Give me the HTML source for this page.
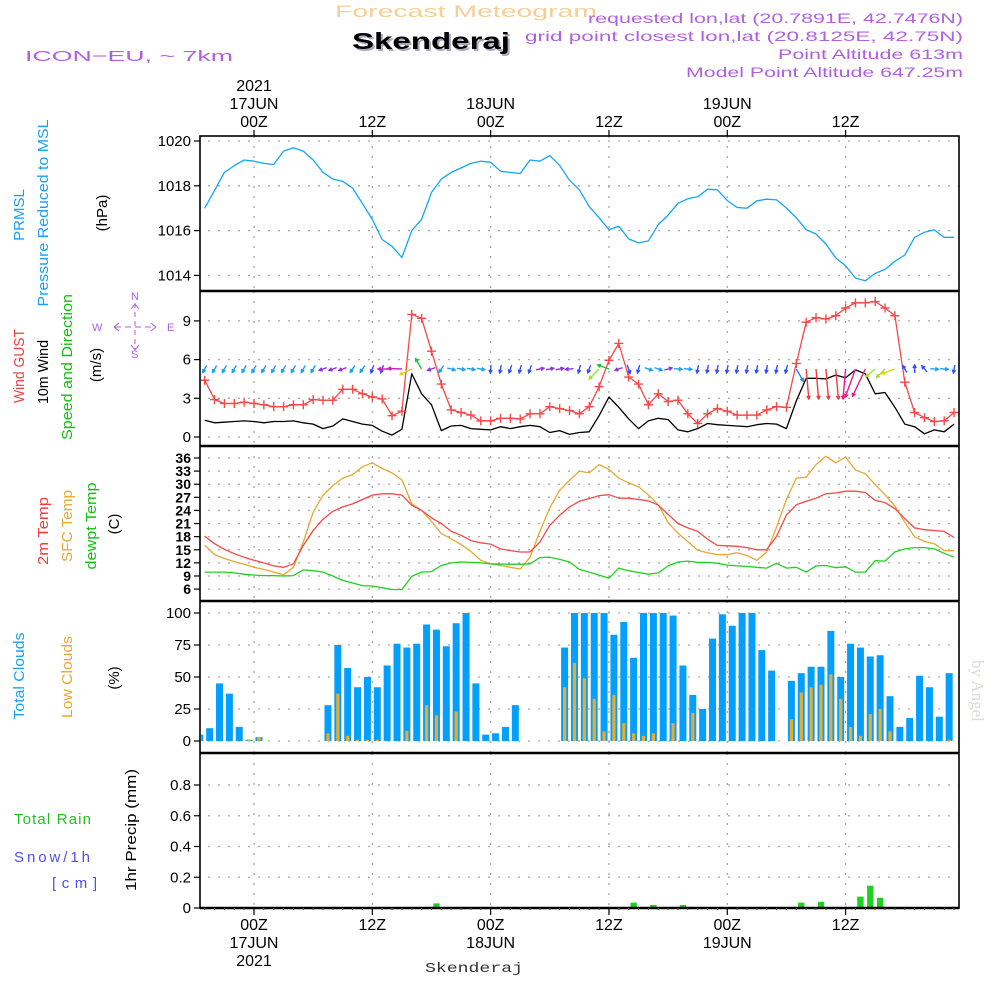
<!DOCTYPE html>
<html><head><meta charset="utf-8"><title>Skenderaj Meteogram</title>
<style>
html,body{margin:0;padding:0;background:#fff;}
svg{display:block;font-family:"Liberation Sans",sans-serif;}
</style></head>
<body>
<svg id="chart" width="1000" height="1000" viewBox="0 0 1000 1000" xmlns="http://www.w3.org/2000/svg">
<rect x="0" y="0" width="1000" height="1000" fill="#fff"/>
<!-- header -->
<text x="335" y="17" font-size="17" fill="#f5cf95" textLength="262" lengthAdjust="spacingAndGlyphs">Forecast Meteogram</text>
<text x="354" y="51" font-size="23" font-weight="bold" fill="#aab" textLength="158" lengthAdjust="spacingAndGlyphs">Skenderaj</text>
<text x="352" y="49" font-size="23" font-weight="bold" fill="#000" textLength="158" lengthAdjust="spacingAndGlyphs">Skenderaj</text>
<text x="25" y="61" font-size="15" fill="#b060e0" textLength="208" lengthAdjust="spacingAndGlyphs">ICON−EU, ~ 7km</text>
<g fill="#b060e0" font-size="14" text-anchor="end">
<text x="963" y="23" textLength="375" lengthAdjust="spacingAndGlyphs">requested lon,lat (20.7891E, 42.7476N)</text>
<text x="963" y="41" textLength="438" lengthAdjust="spacingAndGlyphs">grid point closest lon,lat (20.8125E, 42.75N)</text>
<text x="963" y="59" textLength="185" lengthAdjust="spacingAndGlyphs">Point Altitude 613m</text>
<text x="963" y="77" textLength="277" lengthAdjust="spacingAndGlyphs">Model Point Altitude 647.25m</text>
</g>
<g id="grid"></g>
<g id="marks"></g>
<g id="axes"></g>
<!-- left labels -->
<g font-size="15">
<text transform="translate(24,215) rotate(-90)" text-anchor="middle" fill="#1aa0f0">PRMSL</text>
<text transform="translate(48,213) rotate(-90)" text-anchor="middle" fill="#1aa0f0" textLength="187" lengthAdjust="spacingAndGlyphs">Pressure Reduced to MSL</text>
<text transform="translate(107,213) rotate(-90)" text-anchor="middle" fill="#000">(hPa)</text>
<text transform="translate(24,366) rotate(-90)" text-anchor="middle" fill="#f03c3c" textLength="74" lengthAdjust="spacingAndGlyphs">Wind GUST</text>
<text transform="translate(48,372) rotate(-90)" text-anchor="middle" fill="#000" textLength="64" lengthAdjust="spacingAndGlyphs">10m Wind</text>
<text transform="translate(72,367) rotate(-90)" text-anchor="middle" fill="#10c010" textLength="146" lengthAdjust="spacingAndGlyphs">Speed and Direction</text>
<text transform="translate(101,365) rotate(-90)" text-anchor="middle" fill="#000">(m/s)</text>
<text transform="translate(48,531) rotate(-90)" text-anchor="middle" fill="#f03c3c" textLength="68" lengthAdjust="spacingAndGlyphs">2m Temp</text>
<text transform="translate(72,526) rotate(-90)" text-anchor="middle" fill="#e8a830" textLength="72" lengthAdjust="spacingAndGlyphs">SFC Temp</text>
<text transform="translate(96,526) rotate(-90)" text-anchor="middle" fill="#10c010" textLength="87" lengthAdjust="spacingAndGlyphs">dewpt Temp</text>
<text transform="translate(119,524) rotate(-90)" text-anchor="middle" fill="#000">(C)</text>
<text transform="translate(24,676) rotate(-90)" text-anchor="middle" fill="#1aa0f0" textLength="87" lengthAdjust="spacingAndGlyphs">Total Clouds</text>
<text transform="translate(72,677) rotate(-90)" text-anchor="middle" fill="#e8a830" textLength="82" lengthAdjust="spacingAndGlyphs">Low Clouds</text>
<text transform="translate(119,678) rotate(-90)" text-anchor="middle" fill="#000">(%)</text>
<text transform="translate(136,830) rotate(-90)" text-anchor="middle" fill="#000" textLength="122" lengthAdjust="spacingAndGlyphs">1hr Precip (mm)</text>
<text x="14" y="824" fill="#20c020" textLength="77" lengthAdjust="spacing">Total  Rain</text>
<text x="14" y="862" fill="#5050f0" textLength="76" lengthAdjust="spacing">Snow/1h</text>
<text x="52" y="888" fill="#5050f0" textLength="45" lengthAdjust="spacing">[cm]</text>
</g>
<!-- compass -->
<g fill="#b060e0" stroke="#b060e0" font-size="11">
<text x="131" y="300" stroke="none">N</text>
<text x="131" y="358" stroke="none">S</text>
<text x="92" y="331" stroke="none">W</text>
<text x="167" y="331" stroke="none">E</text>
<line x1="115" y1="327" x2="155" y2="327" stroke-dasharray="6 4" stroke-width="1"/>
<line x1="135" y1="303" x2="135" y2="350" stroke-dasharray="5 4" stroke-width="1"/>
<polyline points="119,323 114,327 119,331" fill="none"/>
<polyline points="151,323 156,327 151,331" fill="none"/>
<polyline points="131,309 135,304 139,309" fill="none"/>
<polyline points="131,345 135,350 139,345" fill="none"/>
</g>
<text transform="translate(972,660) rotate(90)" font-family="'Liberation Serif',serif" font-size="17" fill="#d8dcd6">by Angel</text>
<text x="425" y="972" font-family="'Liberation Mono',monospace" font-size="14" fill="#333" textLength="98" lengthAdjust="spacingAndGlyphs">Skenderaj</text>
</svg>
<script>
// ---------- data (hourly, first point 19Z 16JUN) ----------
const hoursStart = -5;
const pressure = [1017.0,1017.8,1018.6,1018.9,1019.15,1019.1,1019.0,1018.95,1019.55,1019.7,1019.55,1019.15,1018.6,1018.3,1018.2,1017.9,1017.2,1016.5,1015.6,1015.3,1014.8,1016.0,1016.5,1017.7,1018.3,1018.6,1018.8,1019.0,1019.1,1019.05,1018.65,1018.6,1018.55,1019.15,1019.1,1019.35,1018.9,1018.25,
1017.82,1017.07,1016.57,1016.04,1016.19,1015.63,1015.45,1015.54,1016.27,1016.69,1017.22,1017.42,1017.51,1017.85,1017.82,1017.34,1017.03,1017.0,1017.33,1017.4,1017.37,1017.01,1016.57,1016.04,1015.85,1015.4,1014.78,1014.43,1013.88,1013.76,1014.09,1014.27,1014.63,1014.91,1015.7,1015.93,1016.03,1015.7,1015.7];
const gust = [4.4,2.9,2.6,2.6,2.7,2.6,2.5,2.35,2.35,2.5,2.5,2.9,2.85,2.85,3.7,3.7,3.35,3.1,2.95,1.65,2.0,9.5,9.2,6.65,4.1,2.1,1.9,1.7,1.25,1.25,1.45,1.45,1.4,1.8,1.8,2.35,2.2,2.05,
1.8,2.35,3.9,5.95,7.25,4.65,4.1,2.5,3.35,2.75,2.85,1.8,1.05,1.8,2.2,2.0,1.7,1.7,1.7,2.1,2.35,2.3,5.7,8.9,9.25,9.15,9.4,10.0,10.4,10.4,10.5,10.0,9.4,4.25,1.9,1.5,1.2,1.25,1.9];
const wind10m = [1.3,1.1,1.15,1.2,1.25,1.2,1.1,1.2,1.2,1.25,1.1,1.0,0.65,0.85,1.4,1.2,1.0,0.9,0.45,0.15,0.6,4.9,3.35,2.5,0.5,0.85,0.9,0.65,0.6,0.55,0.8,0.65,0.8,0.9,0.8,0.35,0.5,0.2,
0.35,0.4,1.65,3.1,2.3,1.4,0.65,1.25,1.45,1.35,0.55,0.4,0.65,1.05,0.95,0.9,0.85,0.8,0.95,1.05,1.0,0.65,2.8,4.55,4.55,4.5,4.8,4.6,5.2,4.9,3.35,3.45,2.3,1.0,0.8,0.25,0.55,0.4,1.0];
const windDir = [210,210,210,210,210,210,210,210,210,210,210,210,250,250,250,215,215,200,200,270,272,245,330,250,215,105,100,100,100,185,190,200,195,200,80,80,80,265,
195,200,225,290,250,160,195,110,110,75,95,95,190,190,190,190,190,190,190,190,190,195,150,175,175,175,175,185,200,205,230,225,250,330,0,320,95,95,190];
const windArrowLen = [8,8,8,8,8,8,8,8,8,8,8,8,8,8,8,8,8,8,8,14,14,13,12,8,8,8,8,8,8,8,8,8,8,8,8,8,8,8,
8,8,14,12,8,9,8,8,8,8,8,8,8,8,8,8,8,8,8,8,8,8,14,30,30,30,30,30,30,30,12,12,14,8,8,8,8,8,8];
const temp2m = [18.1,16.4,15.1,14.1,13.3,12.6,12.0,11.3,11.0,11.8,16.0,19.4,22.0,23.8,24.8,25.5,26.5,27.5,27.8,27.8,27.5,25.2,24.0,22.3,21.0,19.2,18.3,17.1,16.6,16.3,15.2,14.8,14.5,14.5,16.8,20.6,22.9,24.8,
26.1,26.7,27.4,27.6,26.8,26.8,26.5,26.2,25.2,23.1,21.0,20.0,19.2,17.4,16.0,15.9,15.8,15.5,15.0,15.0,18.1,22.9,25.3,26.1,26.8,27.8,28.0,28.4,28.4,28.1,26.3,25.8,24.4,22.1,20.0,19.6,19.4,19.2,17.8];
const tempSfc = [16.0,13.9,13.0,12.3,11.7,11.0,10.5,9.9,9.3,11.0,16.8,23.6,27.5,29.7,31.4,32.2,34.0,34.9,33.6,32.6,31.0,25.5,24.0,21.5,18.7,17.5,16.2,14.6,12.6,11.8,11.4,11.0,10.6,13.3,19.2,24.6,28.6,30.9,
33.0,32.6,34.5,33.4,31.4,30.3,29.4,27.6,25.3,21.2,18.8,16.9,14.9,14.3,13.9,13.9,14.3,13.7,12.6,14.5,20.2,26.5,31.4,31.6,34.5,36.4,34.9,36.2,33.2,32.4,29.9,27.6,25.0,21.3,18.0,16.9,16.4,14.8,14.8];
const dewpt = [9.9,9.9,9.9,9.7,9.4,9.2,9.1,9.1,9.0,9.1,10.4,10.2,9.9,9.0,8.0,7.4,6.8,6.7,6.3,5.9,5.9,8.9,9.9,10.0,11.4,12.0,12.2,12.1,12.0,11.8,11.7,11.7,11.7,11.8,13.2,13.3,12.8,12.2,
10.5,9.9,9.2,8.5,10.8,10.2,9.8,9.4,9.7,11.3,12.2,12.4,12.1,12.1,11.9,11.5,11.3,11.2,11.0,10.8,11.9,10.8,11.0,9.9,11.3,11.4,10.9,11.1,9.9,9.9,12.5,12.4,14.5,15.2,15.5,15.5,15.2,14.2,13.3];
const totalClouds = [5,10,45,37,11,1,3,0,0,0,0,0,0,28,75,57,42,50,42,59,76,73,76,91,87,74,92,100,45,5,6,11,28,0,0,0,0,73,100,
100,100,100,83,93,65,100,100,100,98,59,36,25,80,99,90,100,100,71,55,0,47,53,58,58,86,50,76,73,66,67,35,11,18,51,42,19,53];
const lowClouds = [4,0,0,0,0,1,3,0,0,0,0,0,0,6,37,4,1,1,1,0,0,8,0,28,20,0,23,0,0,0,0,0,0,0,0,0,0,42,61,
49,33,7.5,36,14,6,4,6,0,14,0,22,0,0,0,0,0,0,0,0,0,17,38,42,44,52,33,11,4,21,25,7.5,0,0,0,0,0,1];
const precip = [0,0,0,0,0,0,0,0,0,0,0,0,0,0,0,0,0,0,0,0,0,0.005,0.005,0,0.03,0,0,0,0,0,0,0,0,0,0,0,0,0,0,0,0,0,0.005,0,0.035,0,0.02,0.003,0,0.02,0,0,0,0,0,0,0,0,0,0,0,0.035,0,0.04,0,0.005,0.005,0.074,0.145,0.067,0,0,0,0,0,0,0];
const pressureTicks = [1014,1016,1018,1020];
const windTicks = [0,3,6,9];
const tempTicks = [6,9,12,15,18,21,24,27,30,33,36];
const cloudTicks = [0,25,50,75,100];
const precipTicks = [0,0.2,0.4,0.6,0.8];
const precipTickLabels = ["0","0.2","0.4","0.6","0.8"];
const timeTicks = [0,12,24,36,48,60];
const topTimeLabels = [["2021","17JUN","00Z"],["12Z"],["18JUN","00Z"],["12Z"],["19JUN","00Z"],["12Z"]];
const bottomTimeLabels = [["00Z","17JUN","2021"],["12Z"],["00Z","18JUN"],["12Z"],["00Z","19JUN"],["12Z"]];

// ---------- scales ----------
const L=200,R=959;
const xOf = h => 254 + 9.86*h;
const xi = i => xOf(hoursStart + i);
const yP = p => 141 + (1020-p)*22.4;
const yW = v => 437 - v*12.9;
const yT = t => 458 + (36-t)*4.37;
const yC = c => 741 - c*1.28;
const yR = r => 908 - r*153.75;
const panels = [[136,291],[291,446],[446,601],[601,753],[753,908]];

const NS="http://www.w3.org/2000/svg";
const grid=document.getElementById('grid'), marks=document.getElementById('marks'), axes=document.getElementById('axes');
function mk(tag, attrs, parent){const e=document.createElementNS(NS,tag);for(const k in attrs)e.setAttribute(k,attrs[k]);parent.appendChild(e);return e;}

// gridlines
const dot={stroke:"#a8a8a8","stroke-width":1.3,"stroke-dasharray":"2 8"};
panels.forEach(([t,b],pi)=>{
  timeTicks.forEach(h=>{const l=mk('line',Object.assign({x1:xOf(h),x2:xOf(h),y1:t,y2:b},dot),grid);
    
    });
});
function hgrid(vals,fy,name){vals.forEach(v=>{const l=mk('line',Object.assign({x1:L+8,x2:R,y1:fy(v),y2:fy(v)},dot),grid);
  
  });}
hgrid(pressureTicks,yP,'pressure-gridline');hgrid(windTicks,yW,'wind-gridline');hgrid(tempTicks,yT,'temp-gridline');hgrid(cloudTicks,yC,'cloud-gridline');hgrid(precipTicks.slice(1),yR,'precip-gridline');

// clip
const defs=mk('defs',{},marks);
const cp=mk('clipPath',{id:'plotclip'},defs);mk('rect',{x:L+1,y:136,width:R-L-1,height:772},cp);
const g=mk('g',{'clip-path':'url(#plotclip)'},marks);



function line(arr,fy,color,name,w){const pts=arr.map((v,i)=>xi(i).toFixed(1)+','+fy(v).toFixed(1)).join(' ');
  const p=mk('polyline',{points:pts,fill:'none',stroke:color,'stroke-width':w||1.3,'stroke-linejoin':'round'},g);
  
  }

// clouds
totalClouds.forEach((v,i)=>{const x=xi(i)-4.9;
  const r=mk('rect',{x:x-3.5,y:yC(v),width:7,height:Math.max(0,741-yC(v)),fill:'#039ffc'},g);
  
  });
lowClouds.forEach((v,i)=>{const x=xi(i)-4.9;
  const r=mk('rect',{x:x-1.6,y:yC(v),width:3.2,height:Math.max(0,741-yC(v)),fill:'#e8ad2e'},g);
  
  });
// precip
precip.forEach((v,i)=>{if(v<=0)return;const x=xi(i)-4.9;
  const r=mk('rect',{x:x-3.2,y:yR(v),width:6.4,height:908-yR(v),fill:'#20d020'},g);
  
  });

line(pressure,yP,'#14a6f5','pressure-line');
line(wind10m,yW,'#000','wind-10m-line');
line(gust,yW,'#f54848','wind-gust-line');
gust.forEach((v,i)=>{const x=xi(i),y=yW(v);
  const p=mk('path',{d:`M${x-4.5},${y}H${x+4.5}M${x},${y-4.5}V${y+4.5}`,stroke:'#f54848','stroke-width':1.4},g);
  
  });
line(tempSfc,yT,'#e8a830','sfc-temp-line');
line(temp2m,yT,'#f54848','temp-2m-line');
line(dewpt,yT,'#20d020','dewpt-line');

// wind arrows
function arrowColor(d,len){
  if(len>=20) return d<182?'#f03c3c':'#f01890';
  if(len>=12){ if(d>=290) return '#20c040'; if(d>=265) return '#d020c0'; if(d>=235) return '#e8d020'; if(d>=210) return '#a0e030'; if(d<170) return '#3080ff';}
  if(d>=300||d<60) return '#3050ff';
  if(d<90) return '#9030e0';
  if(d<130) return '#1aa0f0';
  if(d<185) return '#3050ff';
  if(d<205) return '#3050ff';
  if(d<240) return '#1aa0f0';
  return '#9030e0';
}
windDir.forEach((d,i)=>{const len=windArrowLen[i];const a=d*Math.PI/180;
  const dx=Math.sin(a)*len, dy=-Math.cos(a)*len;
  const x0=xi(i)-(len<10?dx/2:0), y0=369-(len<10?dy/2:0);
  const x1=x0+dx,y1=y0+dy;const c=arrowColor(d,len);
  const ha=3.5, ang=Math.atan2(dy,dx);
  const hx1=x1-ha*Math.cos(ang-0.5),hy1=y1-ha*Math.sin(ang-0.5),hx2=x1-ha*Math.cos(ang+0.5),hy2=y1-ha*Math.sin(ang+0.5);
  const p=mk('path',{d:`M${x0.toFixed(1)},${y0.toFixed(1)}L${x1.toFixed(1)},${y1.toFixed(1)}M${hx1.toFixed(1)},${hy1.toFixed(1)}L${x1.toFixed(1)},${y1.toFixed(1)}L${hx2.toFixed(1)},${hy2.toFixed(1)}`,stroke:c,'stroke-width':1.4,fill:'none'},g);
  
  });

// axes frame
const frame=mk('rect',{x:L,y:136,width:R-L,height:772,fill:'none',stroke:'#000','stroke-width':1.6},axes);


[291,446,601,753,908].forEach(y=>{const l=mk('line',{x1:L,x2:R,y1:y,y2:y,stroke:'#000','stroke-width':2.6},axes);
  
  });
for(let h=-5;h<=71;h++){const x=xOf(h);
  const t=mk('line',{x1:x,x2:x,y1:908,y2:910,stroke:'#555','stroke-width':1},axes);
  
  }

function yTicks(vals,labels,fy,name,bold,fs){vals.forEach((v,k)=>{const y=fy(v);
  const t=mk('line',{x1:L-6,x2:L,y1:y,y2:y,stroke:'#000','stroke-width':1.2},axes);
  
  
  const tx=mk('text',{x:L-9,y:y+5,'text-anchor':'end','font-size':fs||15,fill:'#000','font-weight':bold?'bold':'normal'},axes);
  tx.textContent=labels[k];
  
  });}
yTicks(pressureTicks,pressureTicks.map(String),yP,'pressure-tick');
yTicks(windTicks,windTicks.map(String),yW,'wind-tick');
yTicks(tempTicks,tempTicks.map(String),yT,'temp-tick',true,14);
yTicks(cloudTicks,cloudTicks.map(String),yC,'cloud-tick');
yTicks(precipTicks,precipTickLabels,yR,'precip-tick');

timeTicks.forEach((h,k)=>{const x=xOf(h);
  const t1=mk('line',{x1:x,x2:x,y1:130,y2:136,stroke:'#000','stroke-width':1.2},axes);
  
  
  const t2=mk('line',{x1:x,x2:x,y1:908,y2:915,stroke:'#000','stroke-width':1.2},axes);
  
  
  const top=topTimeLabels[k];
  top.forEach((s,j)=>{const tx=mk('text',{x:x,y:127-(top.length-1-j)*18,'text-anchor':'middle','font-size':16,fill:'#000'},axes);
    tx.textContent=s;
    
    });
  bottomTimeLabels[k].forEach((s,j)=>{const tx=mk('text',{x:x,y:930+j*18,'text-anchor':'middle','font-size':16,fill:'#000'},axes);
    tx.textContent=s;
    
    });
});
</script>
</body></html>
